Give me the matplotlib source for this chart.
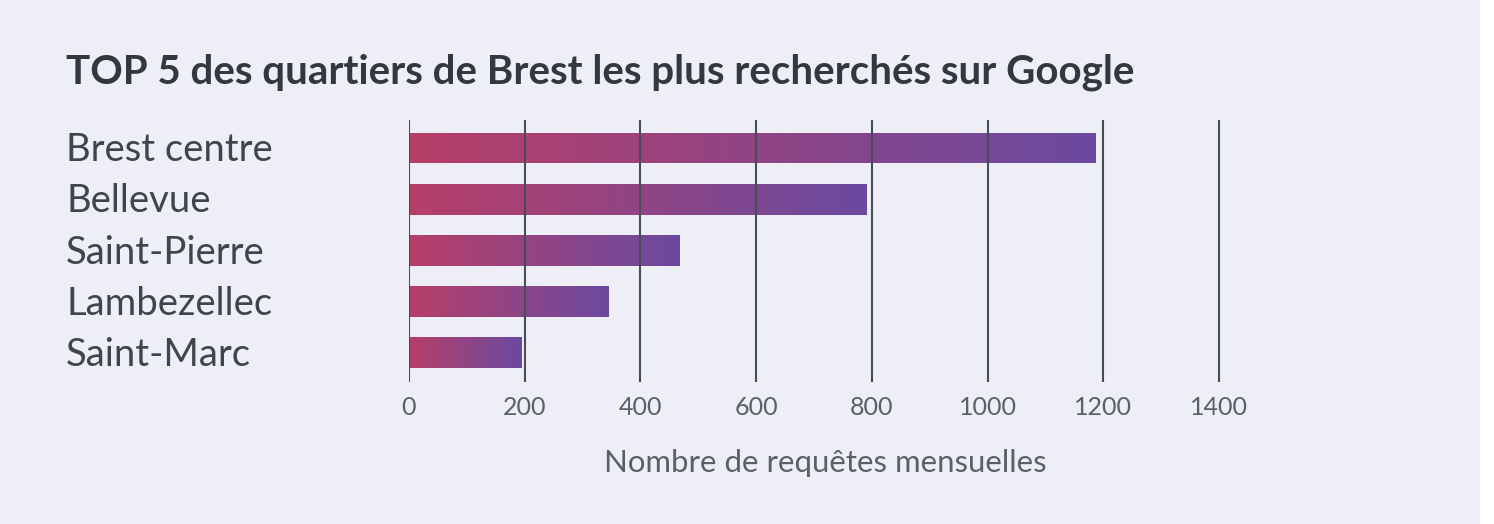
import numpy as np
import matplotlib
matplotlib.use('Agg')
import matplotlib.pyplot as plt
import matplotlib.transforms as mtransforms
from matplotlib.colors import LinearSegmentedColormap

###############################################
quartiers = ['Brest centre', 'Bellevue', 'Saint-Pierre', 'Lambezellec', 'Saint-Marc']
requetes = [1187, 790, 468, 344, 195]
xticks = [0, 200, 400, 600, 800, 1000, 1200, 1400]

title = 'TOP 5 des quartiers de Brest les plus recherchés sur Google'
xlabel = 'Nombre de requêtes mensuelles'

bg = '#eeeef7'
txt = '#3e4450'
grad = LinearSegmentedColormap.from_list('grad', ['#b73f68', '#6a4aa0'])
###############################################

plt.rcParams['font.family'] = ['Lato', 'DejaVu Sans']

fig = plt.figure(figsize=(14.94, 5.24), dpi=100)
fig.patch.set_facecolor(bg)
# white strip on the right
fig.patches.append(plt.Rectangle((1480 / 1494, 0), 14 / 1494, 1, transform=fig.transFigure,
                                 facecolor='white', edgecolor='none', zorder=-1))

ax = fig.add_axes([409 / 1494, 1 - 382 / 524, (1241 - 409) / 1494, (382 - 120) / 524])
ax.set_facecolor('none')

h = 0.6
ypos = np.arange(len(quartiers))
bars = ax.barh(ypos, requetes, height=h, color='none', edgecolor='none')
gradient = np.linspace(0, 1, 256).reshape(1, -1)
for b, v, y in zip(bars, requetes, ypos):
  im = ax.imshow(gradient, cmap=grad, aspect='auto', interpolation='bicubic',
                 extent=(0, v, y + h / 2, y - h / 2), zorder=1)
  im.set_clip_path(b)

ax.set_xlim(0, 1438)
ax.set_ylim(len(quartiers) - 1 + 0.57, -0.55)
ax.set_xticks(xticks)
ax.set_xticklabels([str(t) for t in xticks], fontsize=18, color='#5a5f68')
ax.tick_params(axis='x', length=0, pad=10)
ax.set_yticks([])
ax.grid(axis='x', color='#474c57', linewidth=1.5)
ax.set_axisbelow(False)
for s in ax.spines.values():
  s.set_visible(False)

ax.set_xlabel(xlabel, fontsize=22.4, color='#5a5f68', labelpad=22)

#labels left of the bars, aligned to the card margin
trans = mtransforms.blended_transform_factory(fig.transFigure, ax.transData)
for y, name in zip(ypos, quartiers):
  ax.text(66 / 1494, y + 0.04, name, transform=trans,
          ha='left', va='center', fontsize=27.5, color=txt)

fig.text(66 / 1494, 1 - 72 / 524, title, ha='left', va='center', fontsize=29,
         fontweight='bold', color='#33373f')

plt.savefig('out.png', dpi=100, facecolor=fig.get_facecolor())
